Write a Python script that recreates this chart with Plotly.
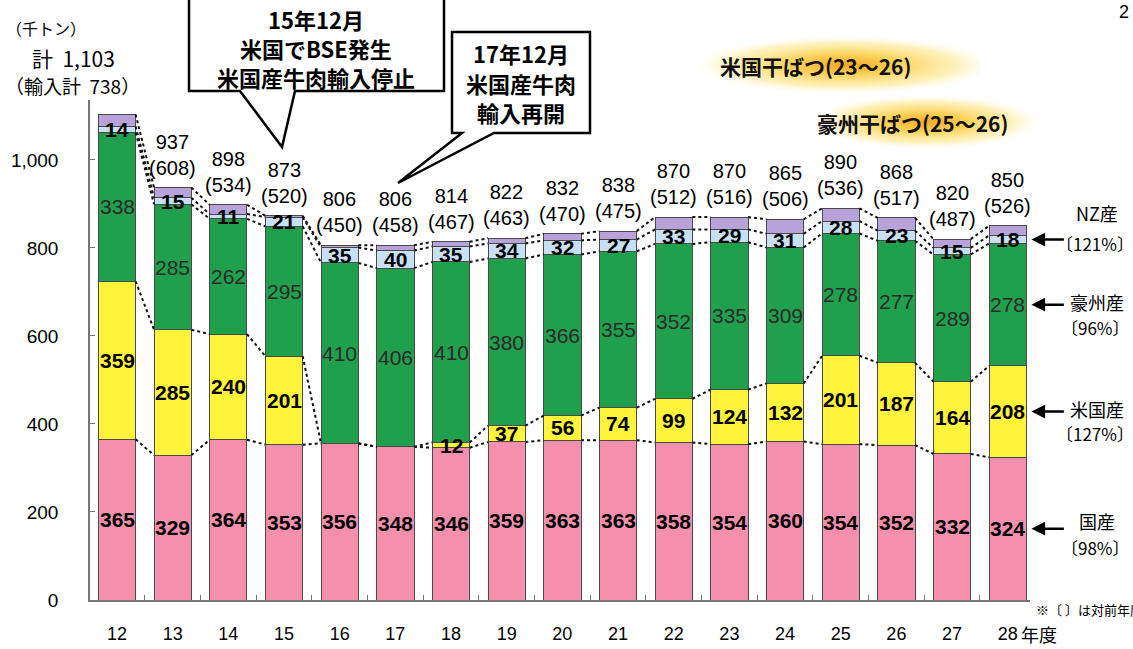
import base64
import plotly.graph_objects as go

# ---------------- data ----------------
years = ["12", "13", "14", "15", "16", "17", "18", "19", "20", "21", "22", "23", "24", "25", "26", "27", "28"]
total = [1103, 937, 898, 873, 806, 806, 814, 822, 832, 838, 870, 870, 865, 890, 868, 820, 850]
imports = [738, 608, 534, 520, 450, 458, 467, 463, 470, 475, 512, 516, 506, 536, 517, 487, 526]
kokusan = [365, 329, 364, 353, 356, 348, 346, 359, 363, 363, 358, 354, 360, 354, 352, 332, 324]
beikoku = [359, 285, 240, 201, 0, 0, 12, 37, 56, 74, 99, 124, 132, 201, 187, 164, 208]
goshu = [338, 285, 262, 295, 410, 406, 410, 380, 366, 355, 352, 335, 309, 278, 277, 289, 278]
nz = [14, 15, 11, 21, 35, 40, 35, 34, 32, 27, 33, 29, 31, 28, 23, 15, 18]
other = [t - a - b - c - d for t, a, b, c, d in zip(total, kokusan, beikoku, goshu, nz)]
yticks = [0, 200, 400, 600, 800, 1000]
ytick_text = ["0", "200", "400", "600", "800", "1,000"]
right_labels = [("NZ産", "〔121%〕"), ("豪州産", "〔96%〕"), ("米国産", "〔127%〕"), ("国産", "〔98%〕")]

# ---------------- geometry helpers ----------------
W, H = 1133, 649
ML, MR, MT, MB = 90, 103, 100, 49
PW, PH = W - ML - MR, H - MT - MB


def px(x):
    return (x - ML) / PW


def py(y):
    return (H - MB - y) / PH


xs = list(range(len(years)))
BW = 0.67
JP = "Noto Sans CJK JP"
NUM = "Liberation Sans"

series = [
    (kokusan, "#F490AE", "国産"),
    (beikoku, "#FFF33C", "米国産"),
    (goshu, "#20A04C", "豪州産"),
    (nz, "#C8E0F4", "NZ産"),
    (other, "#B9A2D9", "その他"),
]

fig = go.Figure()
for vals, col, name in series:
    fig.add_trace(go.Bar(
        x=xs, y=vals, name=name, width=BW,
        marker=dict(color=col, line=dict(color="#4a4a4a", width=1)),
        hoverinfo="skip",
    ))

# dotted connector lines between cumulative boundaries
levels = []
cum = [0] * len(xs)
for vals, _, _ in series:
    cum = [c + v for c, v in zip(cum, vals)]
    levels.append(list(cum))
lx, ly = [], []
for lev in levels:
    for i in range(len(xs) - 1):
        lx += [xs[i] + BW / 2, xs[i + 1] - BW / 2, None]
        ly += [lev[i], lev[i + 1], None]
fig.add_trace(go.Scatter(x=lx, y=ly, mode="lines",
                         line=dict(color="#111", width=2, dash="dot"),
                         hoverinfo="skip", showlegend=False))

ann = []


def ptext(x, y, text, size, family=JP, anchor="center", weight="normal", color="#000"):
    ann.append(dict(xref="paper", yref="paper", x=px(x), y=py(y), text=text, showarrow=False,
                    xanchor=anchor, yanchor="middle",
                    font=dict(family=family, size=size, color=color, weight=weight)))


# segment value labels
base = [0] * len(xs)
for k, (vals, col, name) in enumerate(series):
    for i, v in enumerate(vals):
        if k < 4 and v > 0:
            ann.append(dict(x=xs[i], y=base[i] + v / 2, text=str(v), showarrow=False,
                            xanchor="center", yanchor="middle",
                            font=dict(family=NUM, size=21, color="#2a2a2a" if k == 2 else "#000",
                                      weight="bold" if k != 2 else "normal")))
    base = [b + v for b, v in zip(base, vals)]

# total labels above bars
for i in range(1, len(xs)):
    ann.append(dict(x=xs[i], y=total[i], text=f"{total[i]}<br>({imports[i]})", showarrow=False,
                    xanchor="center", yanchor="bottom", yshift=7,
                    font=dict(family=NUM, size=20, color="#000")))

# top-left labels
ptext(46, 28, "（千トン）", 16)
ptext(73, 58, f"計  {total[0]:,}", 21)
ptext(72, 86, f"（輸入計  {imports[0]}）", 19)

# right-side labels with arrows
last = len(xs) - 1
seg_center = [
    kokusan[last] + beikoku[last] + goshu[last] + nz[last] / 2,
    kokusan[last] + beikoku[last] + goshu[last] / 2,
    kokusan[last] + beikoku[last] / 2,
    kokusan[last] / 2,
]
label_y = [(213, 243), (302, 327), (409, 434), (521, 547)]
for (name, pct), yc, (y1, y2) in zip(right_labels, seg_center, label_y):
    ann.append(dict(x=xs[last] + BW / 2, y=yc, xshift=5, ax=34, ay=0, text="", showarrow=True,
                    arrowhead=2, arrowsize=1.1, arrowwidth=2.5, arrowcolor="#000"))
    ptext(1097, y1, name, 18)
    ptext(1095, y2, pct, 17)

ptext(1034, 609, "※〔 〕は対前年度比", 13, anchor="left")
ptext(1019, 634, "年度", 18, anchor="left")
ptext(1124, 12, "2", 18, family=NUM)


# callout boxes
def path(pts):
    return "M " + " L ".join(f"{px(a):.5f},{py(b):.5f}" for a, b in pts) + " Z"


shapes = [
    dict(type="path", xref="paper", yref="paper",
         path=path([(189, -5), (189, 91), (240, 91), (282, 147), (295, 91), (444, 91), (444, -5)]),
         fillcolor="#fff", line=dict(color="#000", width=2.5)),
    dict(type="path", xref="paper", yref="paper",
         path=path([(452, 32), (452, 133), (462, 133), (398, 183), (494, 133), (590, 133), (590, 32)]),
         fillcolor="#fff", line=dict(color="#000", width=2.5)),
]
for t, yy in [("15年12月", 19), ("米国でBSE発生", 48), ("米国産牛肉輸入停止", 77)]:
    ptext(316, yy, t, 22, weight="bold")
for t, yy in [("17年12月", 53), ("米国産牛肉", 83), ("輸入再開", 112)]:
    ptext(521, yy, t, 22, weight="bold")


# drought labels on gradient glow
def glow(wd, ht, cx):
    svg = (f'<svg xmlns="http://www.w3.org/2000/svg" width="{wd}" height="{ht}" preserveAspectRatio="none">'
           f'<defs><radialGradient id="g" cx="{cx}" cy="0.5" r="0.5">'
           '<stop offset="0" stop-color="#F6A21E" stop-opacity="0.95"/>'
           '<stop offset="0.35" stop-color="#FBC93A" stop-opacity="0.85"/>'
           '<stop offset="0.75" stop-color="#FDE37A" stop-opacity="0.5"/>'
           '<stop offset="1" stop-color="#FFF6C8" stop-opacity="0"/>'
           f'</radialGradient></defs><rect width="{wd}" height="{ht}" fill="url(#g)"/></svg>')
    return "data:image/svg+xml;base64," + base64.b64encode(svg.encode()).decode()


images = [
    dict(source=glow(300, 58, 0.55), xref="paper", yref="paper", x=px(680), y=py(36),
         sizex=300 / PW, sizey=58 / PH, sizing="stretch", xanchor="left", yanchor="top", layer="below"),
    dict(source=glow(230, 54, 0.45), xref="paper", yref="paper", x=px(822), y=py(95),
         sizex=230 / PW, sizey=54 / PH, sizing="stretch", xanchor="left", yanchor="top", layer="below"),
]
ptext(815, 66, "米国干ばつ(23〜26)", 21, weight="bold", color="#111")
ptext(912, 123, "豪州干ばつ(25〜26)", 21, weight="bold", color="#111")

fig.update_layout(
    width=W, height=H, barmode="stack", showlegend=False,
    margin=dict(l=ML, r=MR, t=MT, b=MB, autoexpand=False),
    paper_bgcolor="#ffffff", plot_bgcolor="rgba(0,0,0,0)",
    annotations=ann, shapes=shapes, images=images,
    xaxis=dict(range=[-0.485, 16.4], tickmode="array", tickvals=xs, ticktext=years,
               showgrid=False, zeroline=False, showline=True, linecolor="#777", linewidth=1.5,
               ticks="", tickfont=dict(family=NUM, size=18, color="#000"),
               ticklabelstandoff=17,
               minor=dict(tickvals=[x + 0.5 for x in xs[:-1]], ticks="inside", ticklen=5,
                          tickcolor="#777", tickwidth=1)),
    yaxis=dict(range=[0, 1136], tickmode="array", tickvals=yticks, ticktext=ytick_text,
               showgrid=False, zeroline=False, showline=True, linecolor="#777", linewidth=1.5,
               ticks="inside", ticklen=5, tickcolor="#777",
               tickfont=dict(family=NUM, size=19, color="#000"), ticklabelstandoff=26),
)

fig.write_html("out.html")
